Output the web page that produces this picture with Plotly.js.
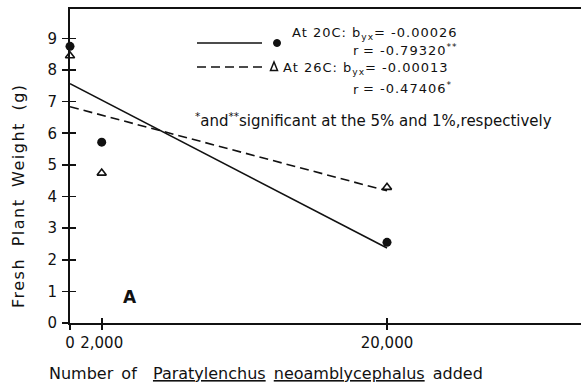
<!DOCTYPE html>
<html><head><meta charset="utf-8">
<script src="https://cdn.plot.ly/plotly-3.0.1.min.js"></script>
<style>html,body{margin:0;padding:0;background:#fff}#chart{width:581px;height:387px}</style>
</head><body><div id="chart"></div>
<script>
// Data
const xPoints = [0, 2000, 20000];
const weight20C = [8.75, 5.72, 2.55];
const weight26C = [8.45, 4.74, 4.29];
const lineX = [0, 20000];
const fit20C = [7.57, 2.37];
const fit26C = [6.84, 4.18];
const xTickVals = [0, 2000, 20000];
const xTickText = ['0', '2,000', '20,000'];
const yTickVals = [0,1,2,3,4,5,6,7,8,9];

const L = 70, T = 9, W = 511, H = 314;
const px = x => (x - L) / W;
const py = y => (T + H - y) / H;
const FONT = 'DejaVu Sans';
const ink = '#111';

const traces = [
  {x: lineX, y: fit20C, mode: 'lines', line: {color: ink, width: 1.6}, cliponaxis: false, hoverinfo: 'skip'},
  {x: lineX, y: fit26C, mode: 'lines', line: {color: ink, width: 1.6, dash: '9px,5px'}, cliponaxis: false, hoverinfo: 'skip'},
  {x: xPoints, y: weight20C, mode: 'markers', marker: {symbol: 'circle', size: 9, color: ink}, cliponaxis: false},
  {x: xPoints, y: weight26C, mode: 'markers', marker: {symbol: 'triangle-up-open', size: 8, color: ink, line: {width: 1.6, color: ink}}, cliponaxis: false},
  {x: [0], y: [0], xaxis: 'x2', yaxis: 'y2', mode: 'markers', marker: {opacity: 0}, hoverinfo: 'skip'}
];

const tf = {family: FONT, size: 15, color: ink};
const ann = (x, y, text, size, extra) => Object.assign({xref: 'paper', yref: 'paper', x: px(x), y: py(y), text, showarrow: false, xanchor: 'left', yanchor: 'middle', font: {family: FONT, size: size || 13, color: ink}}, extra || {});
const sp = t => '<span style="letter-spacing:1px">' + t + '</span>';

const layout = {
  width: 581, height: 387,
  margin: {l: L, r: 0, t: T, b: 387 - T - H},
  paper_bgcolor: '#fff', plot_bgcolor: '#fff',
  showlegend: false,
  xaxis: {range: [0, 32240], tickvals: xTickVals, ticktext: xTickText, ticks: 'outside', ticklen: 5, tickwidth: 1.6, tickcolor: ink,
          showline: true, linewidth: 2, linecolor: ink, mirror: true, showgrid: false, zeroline: false, tickfont: tf, fixedrange: true},
  yaxis: {range: [0, 9.93], tickvals: yTickVals, ticks: 'outside', ticklen: 6, tickwidth: 1.6, tickcolor: ink, ticklabelstandoff: 2,
          showline: true, linewidth: 2, linecolor: ink, showgrid: false, zeroline: false, tickfont: tf, fixedrange: true},
  xaxis2: {overlaying: 'x', anchor: 'y', range: [0, 32240], tickvals: xTickVals, ticks: 'inside', ticklen: 5, tickwidth: 1.6, tickcolor: ink,
           showticklabels: false, showline: false, showgrid: false, zeroline: false},
  yaxis2: {overlaying: 'y', anchor: 'x', range: [0, 9.93], tickvals: yTickVals, ticks: 'inside', ticklen: 6, tickwidth: 1.6, tickcolor: ink,
           showticklabels: false, showline: false, showgrid: false, zeroline: false},
  shapes: [
    {type: 'line', xref: 'paper', yref: 'paper', x0: px(197), x1: px(262), y0: py(43), y1: py(43), line: {color: ink, width: 1.6}},
    {type: 'line', xref: 'paper', yref: 'paper', x0: px(197), x1: px(262), y0: py(67), y1: py(67), line: {color: ink, width: 1.6, dash: '9px,5px'}},
    {type: 'circle', xref: 'paper', yref: 'paper', x0: px(273.5), x1: px(280.5), y0: py(39.5), y1: py(46.5), fillcolor: ink, line: {color: ink, width: 1}},
    {type: 'path', xref: 'paper', yref: 'paper', path: `M ${px(270.5)},${py(70.5)} L ${px(277.5)},${py(70.5)} L ${px(274)},${py(62)} Z`, line: {color: ink, width: 1.5}}
  ],
  annotations: [
    ann(290, 34, sp('At 20C: b<sub>yx</sub>= -0.00026')),
    ann(351, 51, 'r'),
    ann(361, 50, sp('= -0.79320<sup>**</sup>')),
    ann(281, 69, sp('At 26C: b<sub>yx</sub>= -0.00013')),
    ann(351, 89, 'r'),
    ann(361, 88, sp('= -0.47406<sup>*</sup>')),
    ann(193, 120, '<sup>*</sup>and<sup>**</sup>significant at the 5% and 1%,respectively', 15),
    ann(130, 297, '<b>A</b>', 17, {xanchor: 'center'}),
    ann(266, 373, '<span style="word-spacing:3px">Number of  <u>Paratylenchus</u> <u>neoamblycephalus</u> added</span>', 16, {xanchor: 'center'}),
    ann(18, 196, '<span style="letter-spacing:1.5px;word-spacing:5px">Fresh Plant Weight (g)</span>', 16, {xanchor: 'center', textangle: -90})
  ]
};

Plotly.newPlot('chart', traces, layout, {staticPlot: true, displayModeBar: false});
</script></body></html>
